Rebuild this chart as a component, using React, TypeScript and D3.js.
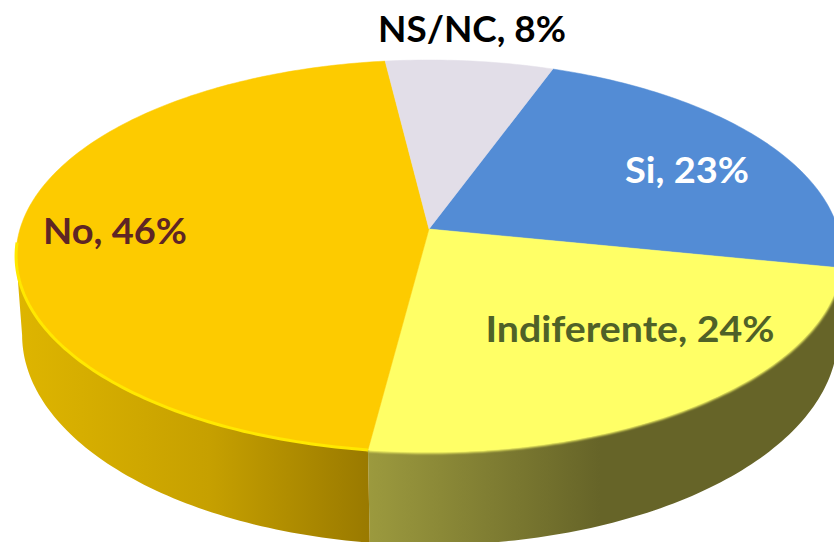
import React from "react";
import * as d3 from "d3";

const categories = ["Si", "Indiferente", "No", "NS/NC"];
const shares = [22.6, 23.9, 46, 7.5];
const sliceColors = ["#538cd5", "#ffff66", "#fdcb00", "#e2dee8"];
const labelColors = ["#ffffff", "#4f6128", "#5e2525", "#000000"];
const labelX = [687, 630, 115, 472];
const labelY = [183, 342, 244, 42];
const labelWidth = [124, 289, 144, 188];

const deg = Math.PI / 180;
const width = 834;
const height = 542;

// perspective disc, top face and bottom rim of the cake
const persp = 0.1378;
const topFace = { x0: 429, y0: 229, a: 192.3, b: 409 };
const bottomFace = { x0: 430, y0: 306, a: 206, b: 404 };
const backAngle = 98 * deg; // rim turns away from the viewer here

type Face = typeof topFace;

const project = (face: Face, t: number): [number, number] => {
  const u = Math.sin(t);
  const v = -Math.cos(t);
  const w = 1 - persp * v;
  return [face.x0 + (face.b * u) / w, face.y0 + (face.a * v) / w];
};

const rimPoints = (face: Face, a0: number, a1: number) => {
  const n = Math.max(2, Math.ceil(Math.abs(a1 - a0) / deg));
  return d3.range(n + 1).map((i) => project(face, a0 + ((a1 - a0) * i) / n));
};

const line = d3.line();

const arcs = d3
  .pie<number>()
  .sort(null)
  .startAngle(20 * deg)
  .endAngle(380 * deg)(shares);

const wallFill = ["url(#wallBlue)", "url(#wallYellow)", "url(#wallGold)", "#8f8c96"];

export default function App() {
  const visibleFrom = backAngle;
  const visibleTo = 2 * Math.PI - backAngle;

  return (
    <div style={{ position: "absolute", left: 0, top: 0, width, height, overflow: "hidden" }}>
      <svg width={width} height={height} style={{ display: "block", background: "#fff" }}>
        <defs>
          <linearGradient id="wallGold" gradientUnits="userSpaceOnUse" x1={17} x2={367} y1={0} y2={0}>
            <stop offset="0" stopColor="#deb500" />
            <stop offset="0.55" stopColor="#c6a000" />
            <stop offset="1" stopColor="#9a7a00" />
          </linearGradient>
          <linearGradient id="wallYellow" gradientUnits="userSpaceOnUse" x1={367} x2={600} y1={0} y2={0}>
            <stop offset="0" stopColor="#9c9a3e" />
            <stop offset="1" stopColor="#666428" />
          </linearGradient>
          <linearGradient id="wallBlue" gradientUnits="userSpaceOnUse" x1={800} x2={834} y1={0} y2={0}>
            <stop offset="0" stopColor="#33557f" />
            <stop offset="1" stopColor="#33557f" />
          </linearGradient>
          <filter id="soft" x="-5%" y="-5%" width="110%" height="110%">
            <feGaussianBlur stdDeviation="0.7" />
          </filter>
          <filter id="softer" x="-5%" y="-5%" width="110%" height="110%">
            <feGaussianBlur stdDeviation="1" />
          </filter>
        </defs>

        {arcs.map((d, i) => {
          const a0 = Math.max(d.startAngle, visibleFrom);
          const a1 = Math.min(d.endAngle, visibleTo);
          if (a1 <= a0) return null;
          const pts = [...rimPoints(topFace, a0, a1), ...rimPoints(bottomFace, a1, a0)];
          return <path key={categories[i]} d={line(pts) + "Z"} fill={wallFill[i]} />;
        })}

        {/* soft edge where the top meets the wall */}
        <path
          d={line(rimPoints(topFace, arcs[1].startAngle, arcs[1].endAngle)) ?? ""}
          fill="none"
          stroke="#ffff66"
          strokeWidth={3}
          filter="url(#softer)"
        />

        {arcs.map((d, i) => {
          const pts = [[topFace.x0, topFace.y0] as [number, number], ...rimPoints(topFace, d.startAngle, d.endAngle)];
          return (
            <path
              key={categories[i]}
              d={line(pts) + "Z"}
              fill={sliceColors[i]}
              stroke={sliceColors[i]}
              strokeWidth={0.5}
            />
          );
        })}

        {/* bright bevel on the gold slice */}
        <path
          d={line(rimPoints(topFace, arcs[2].startAngle, visibleTo + 4 * deg)) ?? ""}
          fill="none"
          stroke="#ffe800"
          strokeWidth={3}
          filter="url(#soft)"
        />

        {categories.map((c, i) => (
          <text
            key={c}
            x={labelX[i]}
            y={labelY[i]}
            textAnchor="middle"
            fill={labelColors[i]}
            fontFamily="Lato, 'Open Sans', sans-serif"
            fontWeight={700}
            fontSize={36}
            textLength={labelWidth[i]}
            lengthAdjust="spacingAndGlyphs"
          >
            {`${c}, ${Math.round(shares[i])}%`}
          </text>
        ))}
      </svg>
    </div>
  );
}
